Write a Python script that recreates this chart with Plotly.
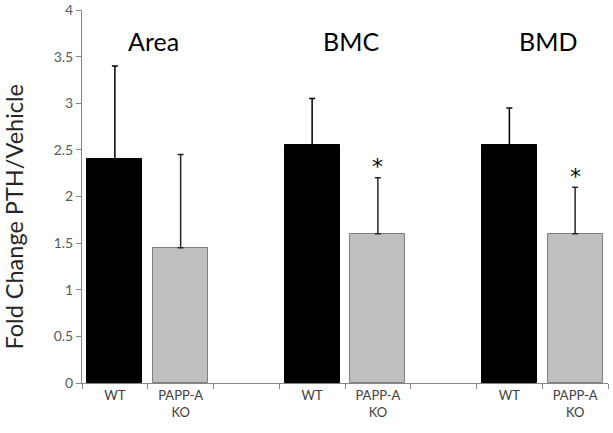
import plotly.graph_objects as go

categories = ["c0", "c1", "c2", "c3", "c4", "c5", "c6", "c7"]
tick_labels = ["WT", "PAPP-A<br>KO", "", "WT", "PAPP-A<br>KO", "", "WT", "PAPP-A<br>KO"]
groups = ["Area", "BMC", "BMD"]

wt_x = ["c0", "c3", "c6"]
wt_values = [2.4, 2.55, 2.55]
wt_errors = [1.0, 0.5, 0.4]

ko_x = ["c1", "c4", "c7"]
ko_values = [1.45, 1.6, 1.6]
ko_errors = [1.0, 0.6, 0.5]

significant = [False, True, True]

FONT = "Lato, Open Sans, sans-serif"

fig = go.Figure()
fig.add_trace(go.Bar(
    x=wt_x, y=wt_values, width=0.84,
    marker=dict(color="#000000", line=dict(color="#000000", width=1)),
    error_y=dict(type="data", array=wt_errors, arrayminus=[0]*3, symmetric=False,
                 color="#000000", thickness=1.5, width=3),
    name="WT", showlegend=False,
))
fig.add_trace(go.Bar(
    x=ko_x, y=ko_values, width=0.84,
    marker=dict(color="#BFBFBF", line=dict(color="#7F7F7F", width=1)),
    error_y=dict(type="data", array=ko_errors, arrayminus=[0]*3, symmetric=False,
                 color="#262626", thickness=1.5, width=3),
    name="PAPP-A KO", showlegend=False,
))

# group titles
for i, g in enumerate(groups):
    fig.add_annotation(x=3 * i + 0.59, y=3.67, text=g, showarrow=False,
                       xref="x", yref="y",
                       font=dict(family=FONT, size=25, color="#000000"))

# significance asterisks
for i, sig in enumerate(significant):
    if sig:
        fig.add_annotation(x=ko_x[i], y=ko_values[i] + ko_errors[i], text="*",
                           showarrow=False, yanchor="middle", yshift=11,
                           font=dict(family="DejaVu Sans", size=22, color="#000000"))

# y axis title
fig.add_annotation(x=0, y=0.5, xref="paper", yref="paper", xshift=-69, yshift=-20,
                   text="Fold Change PTH/Vehicle", textangle=-90, showarrow=False,
                   xanchor="center", yanchor="middle",
                   font=dict(family=FONT, size=23.5, color="#262626"))

fig.update_layout(
    width=613, height=433,
    margin=dict(l=82, r=5, t=10, b=50, autoexpand=False),
    plot_bgcolor="white", paper_bgcolor="white",
    bargap=0,
    font=dict(family=FONT, color="#595959"),
    xaxis=dict(
        type="category", categoryorder="array", categoryarray=categories,
        tickmode="array", tickvals=categories, ticktext=tick_labels,
        tickson="boundaries", ticks="outside", ticklen=5, tickcolor="#868686",
        showline=True, linecolor="#868686", linewidth=1,
        tickfont=dict(size=13, color="#404040"),
        range=[-0.5, 7.5], showgrid=False, automargin=False,
    ),
    yaxis=dict(
        range=[0, 4], dtick=0.5, tick0=0,
        ticks="outside", ticklen=5, tickcolor="#868686",
        showline=True, linecolor="#868686", linewidth=1,
        showgrid=False, zeroline=False, automargin=False,
        tickfont=dict(size=14, color="#595959"),
    ),
)

fig.write_html("out.html", config={"displayModeBar": False},
               post_script="document.body.style.margin='0px';")
